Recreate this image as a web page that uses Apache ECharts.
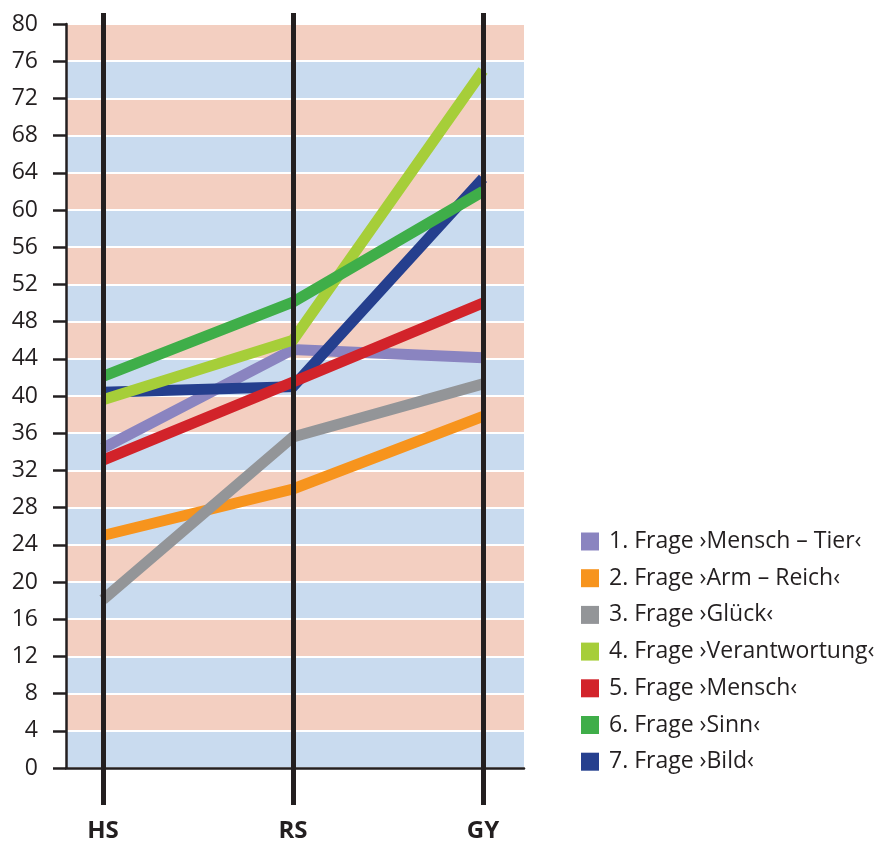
<!DOCTYPE html>
<html>
<head>
<meta charset="utf-8">
<script src="https://cdn.jsdelivr.net/npm/echarts@6/dist/echarts.min.js"></script>
<style>html,body{margin:0;padding:0;background:#fff;}#c{width:887px;height:843px;}</style>
</head>
<body>
<div id="c"></div>
<script>
const categories = ['HS', 'RS', 'GY'];
const seriesNames = [
  '1. Frage ›Mensch – Tier‹',
  '2. Frage ›Arm – Reich‹',
  '3. Frage ›Glück‹',
  '4. Frage ›Verantwortung‹',
  '5. Frage ›Mensch‹',
  '6. Frage ›Sinn‹',
  '7. Frage ›Bild‹'
];
const q1 = [34.4, 45.0, 44.1];
const q2 = [25.0, 30.0, 37.8];
const q3 = [18.1, 35.6, 41.3];
const q4 = [39.6, 46.0, 75.0];
const q5 = [33.1, 41.5, 50.0];
const q6 = [42.1, 50.1, 62.0];
const q7 = [40.4, 41.0, 63.4];
const seriesValues = [q1, q2, q3, q4, q5, q6, q7];
const colors = ['#8a84c0', '#f7941d', '#939598', '#a6ce39', '#d2232a', '#3fae49', '#253f8e'];
// drawing order (bottom to top) as seen in the reference
const drawOrder = [0, 1, 2, 6, 3, 4, 5];
const yMin = 0, yMax = 80, yStep = 4;

const font = '"Open Sans", "Noto Sans", sans-serif';
const ink = '#231f20';
const chart = echarts.init(document.getElementById('c'), null, {renderer: 'canvas'});

chart.setOption({
  animation: false,
  backgroundColor: '#ffffff',
  grid: [
    {left: 66, right: 363, top: 24, bottom: 75},
    {left: 103, right: 404, top: 13, bottom: 38}
  ],
  xAxis: [
    {
      gridIndex: 0, type: 'value', min: 0, max: 1,
      axisLine: {show: true, lineStyle: {color: ink, width: 2.5}},
      axisTick: {show: false}, axisLabel: {show: false}, splitLine: {show: false}
    },
    {
      gridIndex: 1, type: 'category', data: categories, boundaryGap: false, z: 10,
      axisLine: {show: false}, axisTick: {show: false},
      axisLabel: {color: ink, fontFamily: font, fontSize: 24, fontWeight: 'bold', margin: 14},
      splitLine: {show: true, lineStyle: {color: ink, width: 5}}
    }
  ],
  yAxis: [
    {
      gridIndex: 0, type: 'value', min: yMin, max: yMax, interval: yStep,
      axisLine: {show: true, lineStyle: {color: ink, width: 2.5}},
      axisTick: {show: true, length: 13, lineStyle: {color: ink, width: 2.5}},
      axisLabel: {color: ink, fontFamily: font, fontSize: 23, margin: 28},
      splitLine: {show: true, lineStyle: {color: '#ffffff', width: 2}},
      splitArea: {show: true, areaStyle: {color: ['#c9dbef', '#f3cfc1']}}
    },
    {
      gridIndex: 1, type: 'value', min: -3.98, max: 81.18,
      show: false, splitLine: {show: false}
    }
  ],
  legend: {
    orient: 'vertical', left: 576, top: 525,
    icon: 'rect', itemWidth: 18, itemHeight: 18, itemGap: 13.7,
    textStyle: {color: ink, fontFamily: font, fontSize: 23, padding: [0, 0, 0, 5]},
    data: seriesNames
  },
  series: drawOrder.map(i => ({
    name: seriesNames[i],
    type: 'line',
    xAxisIndex: 1, yAxisIndex: 1,
    data: seriesValues[i],
    symbol: 'none',
    lineStyle: {width: 11, color: colors[i], cap: 'butt', join: 'miter'},
    itemStyle: {color: colors[i]}
  }))
});
</script>
</body>
</html>
